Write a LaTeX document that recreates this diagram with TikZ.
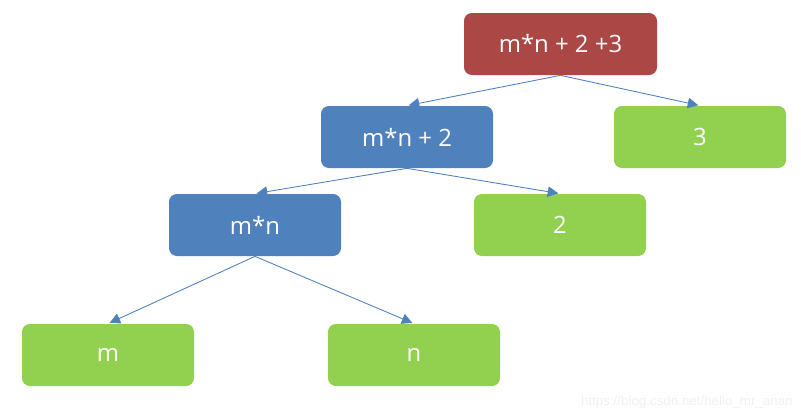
\documentclass[tikz,border=0pt]{standalone}
\usepackage{fontspec}
\setmainfont{Open Sans}
\newfontfamily\wmfont{Liberation Sans}
\usepackage{tikz}
\usetikzlibrary{
  arrows.meta,
  positioning
}
\definecolor{rootred}{HTML}{AB4744}
\definecolor{opblue}{HTML}{4F81BD}
\definecolor{leafgreen}{HTML}{92D050}

\begin{document}
\begin{tikzpicture}[
  exnode/.style={rounded corners=4.5pt, text=white,
                 minimum width=3.44cm, minimum height=1.24cm,
                 font=\fontsize{13.6}{15}\selectfont, inner sep=0pt},
  rootnode/.style={exnode, fill=rootred, minimum width=3.86cm},
  opnode/.style={exnode, fill=opblue},
  leafnode/.style={exnode, fill=leafgreen},
  arr/.style={-{Triangle[length=6pt, width=6pt]}, opblue, line width=0.5pt,
              shorten >=1pt},
]
  \useasboundingbox (0,0) rectangle (16.02,-8.34);

  % operator nodes
  \node[rootnode] (root) at (11.21, -0.88) {m*n + 2 +3};
  \node[opnode] (mn2) at (8.14, -2.74) {m*n + 2};
  \node[opnode] (mn) at (5.1, -4.5) {m*n};

  % leaves
  \node[leafnode] (three) at (14.0, -2.74) {3};
  \node[leafnode] (two) at (11.2, -4.5) {2};
  \node[leafnode] (m) at (2.16, -7.1) {m};
  \node[leafnode] (n) at (8.28, -7.1) {n};

  % edges
  \draw[arr] (root.south) -- (mn2.north);
  \draw[arr] (root.south) -- (three.north);
  \draw[arr] (mn2.south) -- (mn.north);
  \draw[arr] (mn2.south) -- (two.north);
  \draw[arr] (mn.south) -- (m.north);
  \draw[arr] (mn.south) -- (n.north);

  \node[anchor=base east, text=gray!12, font=\wmfont\fontsize{7.6}{9}\selectfont,
        inner sep=0pt] (mark) at (15.86, -8.1) {https://blog.csdn.net/hello\_mr\_anan};
\end{tikzpicture}
\end{document}
